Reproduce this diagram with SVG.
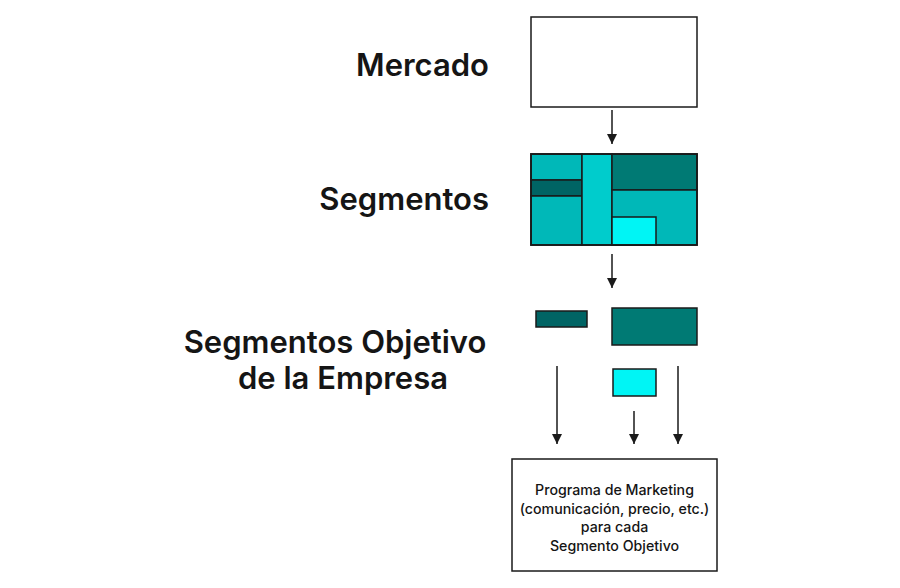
<svg xmlns="http://www.w3.org/2000/svg" width="900" height="588" viewBox="0 0 900 588">
<style>
.lbl{font-family:Inter,"Liberation Sans",sans-serif;font-weight:600;font-size:31px;fill:#151515}
.body{font-family:Inter,"Liberation Sans",sans-serif;font-weight:500;font-size:14.2px;fill:#151515}
.box{fill:#fff;stroke:#1a1a1a;stroke-width:1.5}
.seg{stroke:#1a1a1a;stroke-width:1.5}
.mid{fill:#00B8B8}.light{fill:#00CCCC}.dark{fill:#007A74}.darker{fill:#006464}.cyan{fill:#00F5F5}
.conn{stroke:#1a1a1a;stroke-width:1.5;fill:none}
</style>
<defs>
<marker id="tri" markerUnits="userSpaceOnUse" markerWidth="12" markerHeight="12" viewBox="0 0 12 12" refX="11" refY="6" orient="auto">
<path d="M1,1 L11,6 L1,11 Z" fill="#1a1a1a"/>
</marker>
</defs>
<rect width="900" height="588" fill="#fff"/>
<g id="label-mercado"><text class="lbl" x="489" y="76" text-anchor="end">Mercado</text></g>
<g id="label-segmentos"><text class="lbl" x="489" y="210" text-anchor="end">Segmentos</text></g>
<g id="label-objetivo">
<text class="lbl" x="335" y="353" text-anchor="middle">Segmentos Objetivo</text>
<text class="lbl" x="343" y="389" text-anchor="middle">de la Empresa</text>
</g>
<g id="mercado"><rect class="box" x="531" y="17" width="166" height="90"/></g>
<g id="segmentos">
<rect class="seg mid" x="531" y="154" width="51" height="26"/>
<rect class="seg darker" x="531" y="180" width="51" height="16"/>
<rect class="seg mid" x="531" y="196" width="51" height="49"/>
<rect class="seg light" x="582" y="154" width="30" height="91"/>
<rect class="seg dark" x="612" y="154" width="85" height="36"/>
<rect class="seg mid" x="612" y="190" width="85" height="55"/>
<rect class="seg cyan" x="612" y="217" width="44" height="28"/>
<rect x="531" y="154" width="166" height="91" fill="none" stroke="#1a1a1a" stroke-width="1.8"/>
</g>
<g id="objetivo-1"><rect class="seg darker" x="536" y="311" width="51" height="16"/></g>
<g id="objetivo-2"><rect class="seg dark" x="612" y="308" width="85" height="37"/></g>
<g id="objetivo-3"><rect class="seg cyan" x="613" y="369" width="43" height="27"/></g>
<g id="programa">
<rect class="box" x="512" y="459" width="205" height="112"/>
<text class="body" x="614.5" y="495" text-anchor="middle">Programa de Marketing</text>
<text class="body" x="614.5" y="513.5" text-anchor="middle">(comunicación, precio, etc.)</text>
<text class="body" x="614.5" y="532" text-anchor="middle">para cada</text>
<text class="body" x="614.5" y="550.5" text-anchor="middle">Segmento Objetivo</text>
</g>
<g id="connectors">
<line class="conn" x1="612" y1="110" x2="612" y2="144" marker-end="url(#tri)"/>
<line class="conn" x1="612" y1="254" x2="612" y2="288" marker-end="url(#tri)"/>
<line class="conn" x1="557" y1="366" x2="557" y2="444" marker-end="url(#tri)"/>
<line class="conn" x1="634" y1="411" x2="634" y2="444" marker-end="url(#tri)"/>
<line class="conn" x1="678" y1="366" x2="678" y2="444" marker-end="url(#tri)"/>
</g>
</svg>
